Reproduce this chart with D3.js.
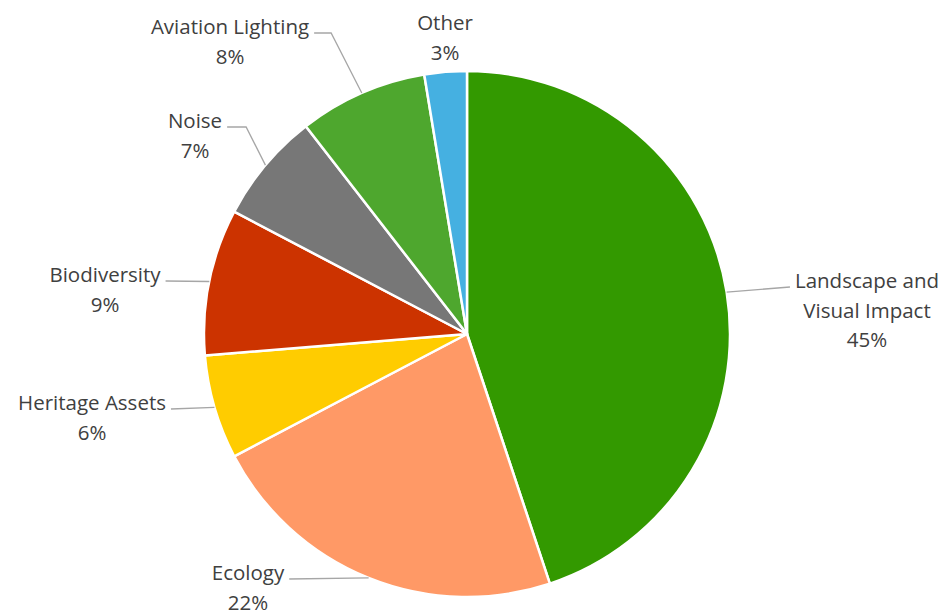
<!DOCTYPE html>
<html>
  <head>
    <meta charset="utf-8">
    <title>Objection topics pie</title>
    <script src="https://d3js.org/d3.v7.min.js"></script>
    <style>
      body { margin: 0; background: #fff; }
      text { font-family: 'Open Sans', sans-serif; font-size: 20.5px; fill: #404040; }
    </style>
  </head>
  <body>
    <svg></svg>
    <script>
      // data (clockwise from 12 o'clock)
      var categories = ["Landscape and Visual Impact", "Ecology", "Heritage Assets", "Biodiversity", "Noise", "Aviation Lighting", "Other"];
      var values = [44.9, 22.4, 6.4, 9.0, 6.8, 7.9, 2.6];
      var colors = ["#339900", "#FF9966", "#FFCC00", "#CC3300", "#777777", "#4EA72E", "#45B0E1"];
      // label text broken into lines
      var labelLines = [["Landscape and", "Visual Impact"], ["Ecology"], ["Heritage Assets"], ["Biodiversity"], ["Noise"], ["Aviation Lighting"], ["Other"]];

      // layout conf.
      var width = 949, height = 616,
          center = [467, 334],
          radius = 263,
          lineH = 29.5;
      // label anchor (centre x, first baseline), side of leader, elbow length
      var labelPos = [
        {x: 867, y: 288, side: "left",  elbow: 0},
        {x: 248, y: 580, side: "right", elbow: 0},
        {x: 92,  y: 410, side: "right", elbow: 0},
        {x: 105, y: 282, side: "right", elbow: 0},
        {x: 195, y: 128, side: "right", elbow: 19},
        {x: 230, y: 34,  side: "right", elbow: 17},
        {x: 445, y: 30,  side: "none",  elbow: 0}
      ];

      var total = d3.sum(values);
      var data = categories.map(function(c, i) {
        return {name: c, value: values[i], color: colors[i], lines: labelLines[i], pos: labelPos[i]};
      });

      var svg = d3.select("svg").attr("width", width).attr("height", height);
      var g = svg.append("g").attr("transform", "translate(" + center + ")");

      var pie = d3.pie().sort(null).value(function(d) { return d.value; });
      var arc = d3.arc().innerRadius(0).outerRadius(radius);
      var arcs = pie(data);

      g.selectAll(".slice")
        .data(arcs)
        .enter().append("path")
          .attr("class", "slice")
          .attr("d", arc)
          .attr("fill", function(d) { return d.data.color; })
          .attr("stroke", "#fff")
          .attr("stroke-width", 2.5)
          .attr("stroke-linejoin", "round");

      var labels = svg.append("g").attr("class", "labels");

      arcs.forEach(function(a) {
        var d = a.data, p = d.pos;
        var t = labels.append("text").attr("text-anchor", "middle");
        var lines = d.lines.concat([Math.round(d.value / total * 100) + "%"]);
        lines.forEach(function(l, i) {
          t.append("tspan").attr("x", p.x).attr("y", p.y + i * lineH).text(l);
        });

        if (p.side === "none") return;
        var w = t.select("tspan").node().getComputedTextLength();
        var mid = (a.startAngle + a.endAngle) / 2;
        var edge = [center[0] + radius * Math.sin(mid), center[1] - radius * Math.cos(mid)];
        var ly = p.y - 1;
        var end = p.side === "right" ? [p.x + w / 2 + 5, ly] : [p.x - w / 2 - 5, ly];
        var pts = [end];
        if (p.elbow) pts.push([end[0] + (p.side === "right" ? p.elbow : -p.elbow), ly]);
        pts.push(edge);
        labels.append("path")
          .attr("d", d3.line()(pts))
          .attr("fill", "none")
          .attr("stroke", "#A6A6A6")
          .attr("stroke-width", 1.3);
      });
    </script>
  </body>
</html>
